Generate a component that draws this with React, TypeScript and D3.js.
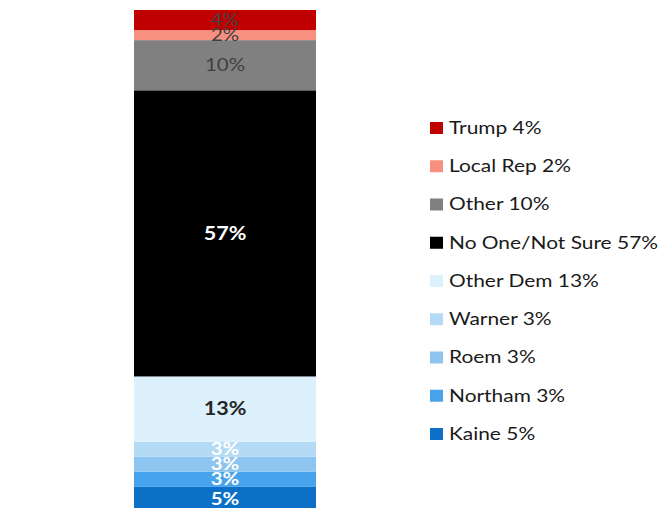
import React from "react";
import * as d3 from "d3";

const categories = ["Kaine", "Northam", "Roem", "Warner", "Other Dem", "No One/Not Sure", "Other", "Local Rep", "Trump"];
const values = [5, 3, 3, 3, 13, 57, 10, 2, 4];
const colors = ["#0B70C6", "#47A4EC", "#8DC5F0", "#B5DAF6", "#DDF1FC", "#000000", "#808080", "#F8907F", "#C00000"];
const labelColors = ["#FFFFFF", "#FFFFFF", "#FFFFFF", "#FFFFFF", "#262626", "#FFFFFF", "#404040", "#404040", "#404040"];
const labelBold = [true, true, true, true, true, true, false, false, false];

const W = 661;
const H = 508;
const FONT = "Lato, 'Open Sans', sans-serif";
const STRETCH = 1.2;

export default function App() {
  const row: Record<string, number> = {};
  categories.forEach((c, i) => (row[c] = values[i]));
  const series = d3.stack<Record<string, number>>().keys(categories)([row]);

  const y = d3.scaleLinear().domain([0, 100]).range([512, 10]);
  const x = d3.scaleBand().domain(["all"]).range([134, 316]).padding(0);

  const legendOrder = categories.map((_, i) => i).reverse();
  const ly = d3.scalePoint<number>().domain(legendOrder).range([128, 434]);

  return (
    <div style={{ position: "absolute", left: 0, top: 0 }}>
      <svg width={W} height={H} style={{ display: "block", background: "#fff" }}>
        {series.map((s, i) => {
          const d = s[0];
          return (
            <rect
              key={categories[i]}
              x={x("all")}
              width={x.bandwidth()}
              y={y(d[1])}
              height={y(d[0]) - y(d[1])}
              fill={colors[i]}
            />
          );
        })}
        {series.map((s, i) => {
          const d = s[0];
          const cy = (y(d[0]) + y(d[1])) / 2;
          const cx = (x("all") as number) + x.bandwidth() / 2;
          return (
            <text
              key={"l" + categories[i]}
              transform={`translate(${cx},${cy}) scale(${STRETCH},1)`}
              dy="0.35em"
              textAnchor="middle"
              fontFamily={FONT}
              fontSize={values[i] > 10 ? 18 : 17}
              fontWeight={labelBold[i] ? 700 : 400}
              fill={labelColors[i]}
            >
              {values[i]}%
            </text>
          );
        })}
        {legendOrder.map((i) => {
          const cy = ly(i) as number;
          return (
            <g key={"lg" + categories[i]}>
              <rect x={430} y={cy - 6} width={13} height={12} fill={colors[i]} />
              <text
                transform={`translate(449,${cy}) scale(1.23,1)`}
                dy="0.35em"
                fontFamily={FONT}
                fontSize={17}
                fill="#1a1a1a"
              >
                {categories[i]} {values[i]}%
              </text>
            </g>
          );
        })}
      </svg>
    </div>
  );
}
